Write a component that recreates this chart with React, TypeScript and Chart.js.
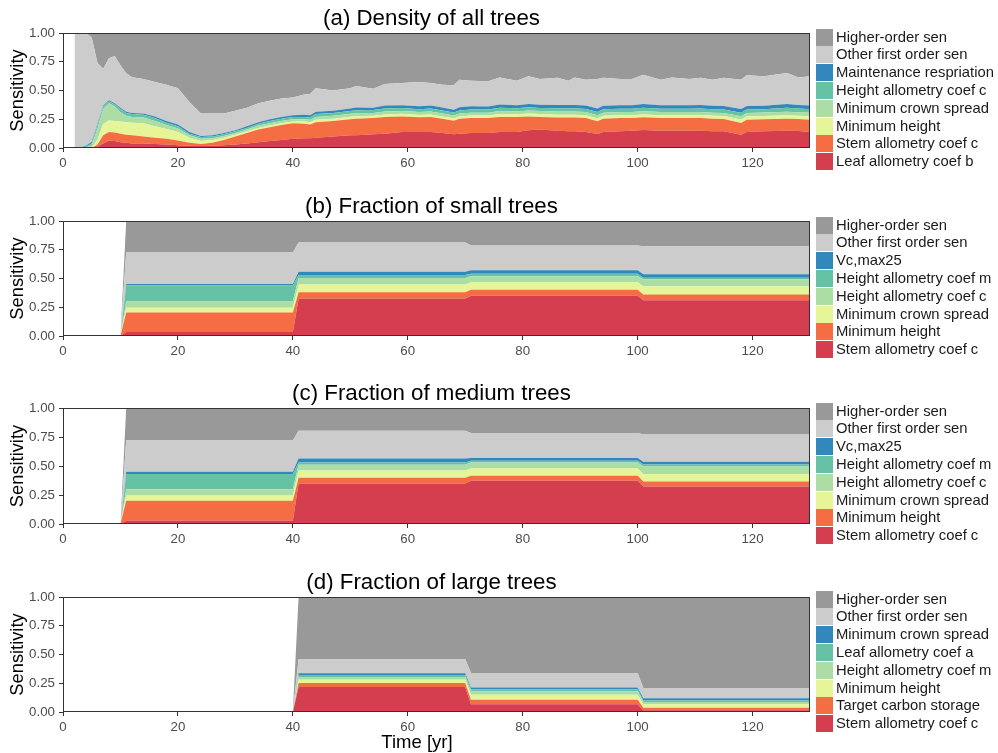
import React, { useEffect, useRef } from "react";
import { Chart, registerables } from "chart.js";

Chart.register(...registerables);

const FONT = '"Liberation Sans", Arial, sans-serif';
Chart.defaults.font.family = FONT;

// Spectral palette, bottom layer first
const COLORS = ["#D53E4F", "#F46D43", "#E6F598", "#ABDDA4", "#66C2A5", "#3288BD", "#CCCCCC", "#999999"];

const X_TICKS = [0, 20, 40, 60, 80, 100, 120];
const Y_TICKS = [0, 0.25, 0.5, 0.75, 1];
const Y_TICK_LABELS = ["0.00", "0.25", "0.50", "0.75", "1.00"];

// ---------- (a) Density of all trees ----------
const A_YEARS = [2, 3, 4, 5, 6, 7, 8, 9, 10, 11, 12, 14, 16, 18, 20, 22, 24, 26, 28, 30, 32, 34, 36, 38, 40, 42, 43, 44, 47, 50, 51, 54, 56, 59, 62, 64, 66, 68, 69, 71, 74, 76, 79, 81, 83, 86, 88, 89, 91, 93, 94, 97, 99, 101, 104, 106, 109, 111, 113, 115, 118, 119, 122, 126, 128, 130];
const A_LABELS = ["Leaf allometry coef b", "Stem allometry coef c", "Minimum height", "Minimum crown spread", "Height allometry coef c", "Maintenance respriation", "Other first order sen", "Higher-order sen"];
const A_LEAF_B = [0, 0, 0, 0, 0.01, 0.04, 0.065, 0.06, 0.05, 0.045, 0.04, 0.04, 0.035, 0.03, 0.025, 0.02, 0.02, 0.02, 0.025, 0.03, 0.04, 0.05, 0.06, 0.07, 0.08, 0.085, 0.085, 0.09, 0.1, 0.11, 0.11, 0.12, 0.125, 0.14, 0.14, 0.14, 0.13, 0.12, 0.125, 0.13, 0.13, 0.14, 0.14, 0.155, 0.16, 0.15, 0.145, 0.145, 0.14, 0.122, 0.14, 0.145, 0.15, 0.157, 0.15, 0.15, 0.15, 0.15, 0.145, 0.145, 0.116, 0.14, 0.145, 0.15, 0.148, 0.14];
const A_STEM_C = [0, 0, 0, 0, 0.02, 0.07, 0.075, 0.075, 0.075, 0.07, 0.07, 0.06, 0.055, 0.05, 0.04, 0.025, 0.015, 0.025, 0.045, 0.07, 0.09, 0.11, 0.12, 0.13, 0.135, 0.125, 0.12, 0.135, 0.135, 0.14, 0.145, 0.14, 0.145, 0.135, 0.128, 0.13, 0.125, 0.118, 0.13, 0.13, 0.13, 0.13, 0.13, 0.12, 0.11, 0.115, 0.12, 0.12, 0.12, 0.11, 0.115, 0.115, 0.11, 0.11, 0.11, 0.11, 0.11, 0.11, 0.11, 0.108, 0.101, 0.106, 0.105, 0.105, 0.105, 0.106];
const A_MIN_HEIGHT = [0, 0, 0, 0.005, 0.04, 0.1, 0.1, 0.1, 0.105, 0.11, 0.11, 0.115, 0.1, 0.085, 0.075, 0.045, 0.025, 0.025, 0.02, 0.015, 0.015, 0.015, 0.015, 0.015, 0.015, 0.02, 0.02, 0.02, 0.02, 0.022, 0.022, 0.02, 0.022, 0.022, 0.02, 0.022, 0.02, 0.02, 0.02, 0.022, 0.022, 0.025, 0.023, 0.025, 0.025, 0.025, 0.025, 0.025, 0.025, 0.025, 0.025, 0.025, 0.025, 0.025, 0.025, 0.025, 0.025, 0.026, 0.025, 0.025, 0.03, 0.028, 0.028, 0.03, 0.028, 0.03];
const A_CROWN = [0, 0, 0.005, 0.02, 0.1, 0.13, 0.15, 0.125, 0.08, 0.055, 0.05, 0.05, 0.045, 0.035, 0.03, 0.02, 0.02, 0.015, 0.015, 0.015, 0.015, 0.02, 0.02, 0.02, 0.02, 0.02, 0.02, 0.025, 0.025, 0.025, 0.025, 0.025, 0.025, 0.025, 0.025, 0.025, 0.025, 0.025, 0.025, 0.025, 0.025, 0.027, 0.025, 0.027, 0.026, 0.027, 0.027, 0.027, 0.027, 0.027, 0.027, 0.027, 0.027, 0.028, 0.027, 0.027, 0.027, 0.027, 0.027, 0.027, 0.03, 0.03, 0.03, 0.03, 0.03, 0.03];
const A_HEIGHT_C = [0, 0, 0.005, 0.015, 0.03, 0.02, 0.015, 0.02, 0.03, 0.025, 0.025, 0.025, 0.025, 0.02, 0.02, 0.015, 0.015, 0.015, 0.015, 0.015, 0.015, 0.015, 0.02, 0.02, 0.02, 0.02, 0.02, 0.025, 0.025, 0.025, 0.027, 0.025, 0.027, 0.025, 0.025, 0.027, 0.027, 0.025, 0.027, 0.028, 0.027, 0.028, 0.027, 0.028, 0.027, 0.028, 0.028, 0.028, 0.028, 0.03, 0.03, 0.03, 0.03, 0.03, 0.03, 0.03, 0.03, 0.03, 0.03, 0.03, 0.03, 0.03, 0.03, 0.035, 0.032, 0.032];
const A_MAINT = [0, 0.005, 0.01, 0.015, 0.01, 0.01, 0.01, 0.01, 0.01, 0.01, 0.01, 0.01, 0.015, 0.015, 0.015, 0.015, 0.01, 0.01, 0.01, 0.01, 0.015, 0.015, 0.015, 0.015, 0.015, 0.02, 0.02, 0.02, 0.02, 0.022, 0.023, 0.02, 0.025, 0.025, 0.025, 0.026, 0.026, 0.025, 0.027, 0.027, 0.027, 0.028, 0.027, 0.028, 0.028, 0.03, 0.03, 0.03, 0.03, 0.03, 0.03, 0.03, 0.03, 0.033, 0.03, 0.03, 0.03, 0.03, 0.03, 0.03, 0.032, 0.031, 0.03, 0.033, 0.03, 0.032];
const A_OTHER = [1, 0.995, 0.98, 0.905, 0.53, 0.32, 0.365, 0.41, 0.37, 0.335, 0.31, 0.3, 0.3, 0.315, 0.315, 0.26, 0.195, 0.19, 0.17, 0.17, 0.16, 0.165, 0.16, 0.16, 0.155, 0.175, 0.185, 0.205, 0.175, 0.176, 0.188, 0.166, 0.187, 0.193, 0.211, 0.195, 0.197, 0.212, 0.24, 0.223, 0.219, 0.236, 0.213, 0.24, 0.224, 0.235, 0.21, 0.239, 0.224, 0.256, 0.243, 0.228, 0.228, 0.255, 0.222, 0.242, 0.228, 0.237, 0.227, 0.245, 0.255, 0.267, 0.255, 0.269, 0.241, 0.253];
const A_HIGHER = [0, 0, 0, 0.04, 0.26, 0.31, 0.22, 0.2, 0.28, 0.35, 0.385, 0.4, 0.425, 0.45, 0.48, 0.6, 0.7, 0.7, 0.7, 0.675, 0.65, 0.61, 0.59, 0.57, 0.56, 0.535, 0.53, 0.48, 0.5, 0.48, 0.46, 0.484, 0.444, 0.435, 0.426, 0.435, 0.45, 0.455, 0.406, 0.415, 0.42, 0.386, 0.415, 0.377, 0.4, 0.39, 0.415, 0.386, 0.406, 0.4, 0.39, 0.4, 0.4, 0.362, 0.406, 0.386, 0.4, 0.39, 0.406, 0.39, 0.406, 0.368, 0.377, 0.348, 0.386, 0.377];

// ---------- (b) Fraction of small trees ----------
const B_YEARS = [10, 11, 40, 41, 70, 71, 100, 101, 130];
const B_LABELS = ["Stem allometry coef c", "Minimum height", "Minimum crown spread", "Height allometry coef c", "Height allometry coef m", "Vc,max25", "Other first order sen", "Higher-order sen"];
const B_STEM_C = [0, 0.035, 0.035, 0.323, 0.323, 0.351, 0.351, 0.31, 0.31];
const B_MIN_HEIGHT = [0, 0.17, 0.17, 0.057, 0.057, 0.052, 0.052, 0.05, 0.05];
const B_CROWN = [0, 0.04, 0.04, 0.067, 0.067, 0.064, 0.064, 0.072, 0.072];
const B_HEIGHT_C = [0, 0.055, 0.055, 0.057, 0.057, 0.052, 0.052, 0.061, 0.061];
const B_HEIGHT_M = [0, 0.14, 0.14, 0.026, 0.026, 0.023, 0.023, 0.014, 0.014];
const B_VCMAX = [0, 0.012, 0.012, 0.028, 0.028, 0.029, 0.029, 0.029, 0.029];
const B_OTHER = [0, 0.274, 0.274, 0.255, 0.255, 0.217, 0.217, 0.244, 0.244];
const B_HIGHER = [0, 0.274, 0.274, 0.187, 0.187, 0.212, 0.212, 0.22, 0.22];

// ---------- (c) Fraction of medium trees ----------
const C_YEARS = [10, 11, 40, 41, 70, 71, 100, 101, 130];
const C_LABELS = ["Stem allometry coef c", "Minimum height", "Minimum crown spread", "Height allometry coef c", "Height allometry coef m", "Vc,max25", "Other first order sen", "Higher-order sen"];
const C_STEM_C = [0, 0.029, 0.029, 0.349, 0.349, 0.372, 0.372, 0.323, 0.323];
const C_MIN_HEIGHT = [0, 0.171, 0.171, 0.049, 0.049, 0.043, 0.043, 0.043, 0.043];
const C_CROWN = [0, 0.045, 0.045, 0.063, 0.063, 0.063, 0.063, 0.066, 0.066];
const C_HEIGHT_C = [0, 0.055, 0.055, 0.049, 0.049, 0.052, 0.052, 0.064, 0.064];
const C_HEIGHT_M = [0, 0.132, 0.132, 0.02, 0.02, 0.015, 0.015, 0.017, 0.017];
const C_VCMAX = [0, 0.018, 0.018, 0.035, 0.035, 0.025, 0.025, 0.023, 0.023];
const C_OTHER = [0, 0.27, 0.27, 0.239, 0.239, 0.214, 0.214, 0.236, 0.236];
const C_HIGHER = [0, 0.28, 0.28, 0.196, 0.196, 0.216, 0.216, 0.228, 0.228];

// ---------- (d) Fraction of large trees ----------
const D_YEARS = [40, 41, 70, 71, 100, 101, 130];
const D_LABELS = ["Stem allometry coef c", "Target carbon storage", "Minimum height", "Height allometry coef m", "Leaf allometry coef a", "Minimum crown spread", "Other first order sen", "Higher-order sen"];
const D_STEM_C = [0, 0.217, 0.217, 0.067, 0.067, 0.015, 0.015];
const D_TARGET_C = [0, 0.035, 0.035, 0.04, 0.04, 0.023, 0.023];
const D_MIN_HEIGHT = [0, 0.029, 0.029, 0.044, 0.044, 0.029, 0.029];
const D_HEIGHT_M = [0, 0.023, 0.023, 0.029, 0.029, 0.02, 0.02];
const D_LEAF_A = [0, 0.018, 0.018, 0.017, 0.017, 0.013, 0.013];
const D_CROWN = [0, 0.014, 0.014, 0.017, 0.017, 0.019, 0.019];
const D_OTHER = [0, 0.125, 0.125, 0.125, 0.125, 0.09, 0.09];
const D_HIGHER = [0, 0.539, 0.539, 0.661, 0.661, 0.791, 0.791];

type PanelDef = {
  key: string;
  title: string;
  years: number[];
  labels: string[];
  values: number[][];
  canvasTop: number;
  height: number;
  plotTop: number;
  plotBottom: number;
  legendY: number;
  xTitle?: string;
};

const PANELS: PanelDef[] = [
  {
    key: "a", title: "(a) Density of all trees", years: A_YEARS, labels: A_LABELS,
    values: [A_LEAF_B, A_STEM_C, A_MIN_HEIGHT, A_CROWN, A_HEIGHT_C, A_MAINT, A_OTHER, A_HIGHER],
    canvasTop: 0, height: 190, plotTop: 33, plotBottom: 148, legendY: 37,
  },
  {
    key: "b", title: "(b) Fraction of small trees", years: B_YEARS, labels: B_LABELS,
    values: [B_STEM_C, B_MIN_HEIGHT, B_CROWN, B_HEIGHT_C, B_HEIGHT_M, B_VCMAX, B_OTHER, B_HIGHER],
    canvasTop: 190, height: 190, plotTop: 31, plotBottom: 146, legendY: 35,
  },
  {
    key: "c", title: "(c) Fraction of medium trees", years: C_YEARS, labels: C_LABELS,
    values: [C_STEM_C, C_MIN_HEIGHT, C_CROWN, C_HEIGHT_C, C_HEIGHT_M, C_VCMAX, C_OTHER, C_HIGHER],
    canvasTop: 380, height: 185, plotTop: 28, plotBottom: 144, legendY: 31,
  },
  {
    key: "d", title: "(d) Fraction of large trees", years: D_YEARS, labels: D_LABELS,
    values: [D_STEM_C, D_TARGET_C, D_MIN_HEIGHT, D_HEIGHT_M, D_LEAF_A, D_CROWN, D_OTHER, D_HIGHER],
    canvasTop: 565, height: 188, plotTop: 32, plotBottom: 147, legendY: 34, xTitle: "Time [yr]",
  },
];

const PLOT_LEFT = 63;
const PLOT_RIGHT = 810;
const CANVAS_W = 998;

function decorPlugin(p: PanelDef) {
  return {
    id: "decor_" + p.key,
    afterDraw(chart: any) {
      const ctx = chart.ctx as CanvasRenderingContext2D;
      const a = chart.chartArea;
      ctx.save();
      // panel border
      ctx.strokeStyle = "#333333";
      ctx.lineWidth = 1;
      ctx.strokeRect(Math.round(a.left) + 0.5, Math.round(a.top) + 0.5, Math.round(a.right - a.left) - 1, Math.round(a.bottom - a.top) - 1);
      // title
      ctx.fillStyle = "#000000";
      ctx.font = "22.3px " + FONT;
      ctx.textAlign = "center";
      ctx.textBaseline = "middle";
      ctx.fillText(p.title, 431.5, p.plotTop - 14);
      // legend (top item = last series)
      ctx.font = "14.8px " + FONT;
      ctx.textAlign = "left";
      const n = p.labels.length;
      for (let k = 0; k < n; k++) {
        const idx = n - 1 - k;
        const yc = p.legendY + k * 17.8;
        ctx.fillStyle = COLORS[idx];
        ctx.fillRect(816, Math.round(yc - 8.4), 17, 17);
        ctx.fillStyle = "#1A1A1A";
        ctx.fillText(p.labels[idx], 836, yc + 0.5);
      }
      if (p.xTitle) {
        ctx.font = "18.5px " + FONT;
        ctx.textAlign = "center";
        ctx.fillStyle = "#000000";
        ctx.fillText(p.xTitle, 417, p.height - 10);
      }
      ctx.restore();
    },
  };
}

function Panel({ p }: { p: PanelDef }) {
  const ref = useRef<HTMLCanvasElement | null>(null);
  useEffect(() => {
    if (!ref.current) return;
    const datasets = p.values.map((vals, i) => ({
      label: p.labels[i],
      data: p.years.map((x, j) => ({ x, y: vals[j] })),
      backgroundColor: COLORS[i],
      borderColor: COLORS[i],
      borderWidth: 0,
      pointRadius: 0,
      tension: 0,
      fill: i === 0 ? "origin" : "-1",
    }));
    const chart = new Chart(ref.current, {
      type: "line",
      data: { datasets } as any,
      options: {
        responsive: false,
        animation: false,
        events: [],
        layout: { padding: { top: p.plotTop, right: CANVAS_W - PLOT_RIGHT, left: 0, bottom: 0 } },
        plugins: { legend: { display: false }, tooltip: { enabled: false }, title: { display: false } },
        scales: {
          x: {
            type: "linear",
            min: 0,
            max: 130,
            afterBuildTicks: (s: any) => { s.ticks = X_TICKS.map((v) => ({ value: v })); },
            afterFit: (s: any) => { s.height = p.height - p.plotBottom; },
            grid: { display: true, drawOnChartArea: false, drawTicks: true, tickLength: 4, color: "#333333", lineWidth: 1 },
            border: { display: false },
            ticks: { font: { size: 13.3, family: FONT }, color: "#4D4D4D", padding: 3, maxRotation: 0, autoSkip: false },
          },
          y: {
            stacked: true,
            min: 0,
            max: 1,
            afterBuildTicks: (s: any) => { s.ticks = Y_TICKS.map((v) => ({ value: v })); },
            afterFit: (s: any) => { s.width = PLOT_LEFT; },
            grid: { display: true, drawOnChartArea: false, drawTicks: true, tickLength: 4, color: "#333333", lineWidth: 1 },
            border: { display: false },
            ticks: {
              font: { size: 13.3, family: FONT },
              color: "#4D4D4D",
              padding: 4,
              autoSkip: false,
              callback: (v: any) => Y_TICK_LABELS[Y_TICKS.indexOf(Number(v))],
            },
            title: { display: true, text: "Sensitivity", font: { size: 18.3, family: FONT }, color: "#000000", padding: { top: 7.3, bottom: 0 } },
          },
        },
      } as any,
      plugins: [decorPlugin(p)],
    });
    return () => chart.destroy();
  }, [p]);
  return (
    <canvas
      ref={ref}
      width={CANVAS_W}
      height={p.height}
      style={{ position: "absolute", left: 0, top: p.canvasTop, width: CANVAS_W, height: p.height }}
    />
  );
}

export default function App() {
  return (
    <div style={{ position: "absolute", left: 0, top: 0, width: CANVAS_W, height: 753, background: "#ffffff", overflow: "hidden" }}>
      {PANELS.map((p) => (
        <Panel key={p.key} p={p} />
      ))}
    </div>
  );
}
